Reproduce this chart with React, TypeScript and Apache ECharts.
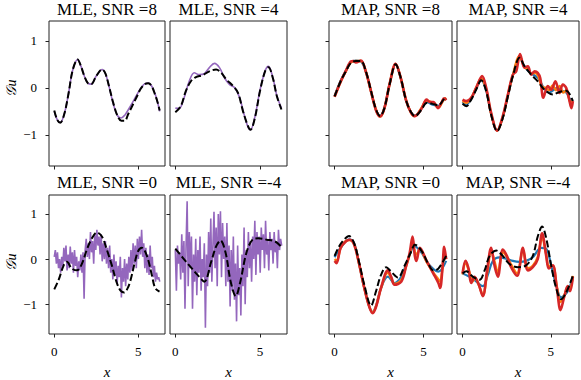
import React, { useEffect, useRef } from "react";
import * as echarts from "echarts";

type P = [number, number];

const titles = [
  "MLE, SNR =8", "MLE, SNR =4", "MAP, SNR =8", "MAP, SNR =4",
  "MLE, SNR =0", "MLE, SNR =-4", "MAP, SNR =0", "MAP, SNR =-4",
];
const xTicks = [0, 5];
const yTicks = [-1, 0, 1];
const xLabel = "x";
const yLabel = "𝒢u";

// ---- MLE, SNR = 8
const truthA: P[] = [[0,-0.48],[0.18,-0.68],[0.36,-0.74],[0.6,-0.55],[0.85,-0.12],[1.1,0.38],[1.39,0.6],[1.6,0.45],[1.8,0.24],[2.0,0.1],[2.2,0.08],[2.5,0.25],[2.85,0.39],[3.05,0.3],[3.25,0.05],[3.5,-0.3],[3.75,-0.58],[4.0,-0.7],[4.2,-0.7],[4.4,-0.56],[4.65,-0.38],[4.9,-0.2],[5.15,-0.02],[5.4,0.08],[5.6,0.1],[5.8,0.04],[6.0,-0.14],[6.15,-0.3],[6.28,-0.48]];
const mleA: P[] = [[0,-0.5],[0.18,-0.68],[0.36,-0.73],[0.6,-0.55],[0.85,-0.12],[1.1,0.38],[1.39,0.6],[1.6,0.45],[1.8,0.24],[2.0,0.1],[2.2,0.08],[2.5,0.25],[2.85,0.39],[3.05,0.3],[3.25,0.05],[3.5,-0.32],[3.75,-0.58],[3.98,-0.64],[4.2,-0.58],[4.4,-0.47],[4.65,-0.32],[4.9,-0.16],[5.15,-0.01],[5.4,0.09],[5.6,0.1],[5.8,0.04],[6.0,-0.12],[6.15,-0.3],[6.28,-0.5]];

// ---- MLE, SNR = 4
const truthB: P[] = [[0,-0.52],[0.32,-0.39],[0.62,-0.07],[0.92,0.14],[1.22,0.23],[1.61,0.27],[2.01,0.35],[2.41,0.39],[2.71,0.32],[3.01,0.18],[3.41,0.04],[3.71,-0.11],[4.0,-0.5],[4.3,-0.82],[4.44,-0.89],[4.7,-0.64],[5.0,-0.07],[5.3,0.35],[5.5,0.44],[5.76,0.21],[6.0,-0.18],[6.27,-0.46]];
const mleB: P[] = [[0,-0.43],[0.22,-0.44],[0.52,-0.21],[0.82,0.14],[1.12,0.32],[1.41,0.28],[1.71,0.3],[2.01,0.43],[2.31,0.52],[2.61,0.43],[2.91,0.21],[3.21,0.07],[3.51,0.0],[3.8,-0.21],[4.05,-0.55],[4.3,-0.84],[4.44,-0.89],[4.7,-0.62],[5.0,-0.05],[5.3,0.36],[5.5,0.46],[5.76,0.22],[6.0,-0.17],[6.27,-0.43]];

// ---- MAP, SNR = 8
const truthC: P[] = [[0,-0.18],[0.34,0.14],[0.63,0.35],[0.91,0.53],[1.19,0.57],[1.48,0.57],[1.76,0.35],[2.05,-0.07],[2.33,-0.46],[2.56,-0.6],[2.8,-0.43],[3.09,0.07],[3.43,0.5],[3.69,0.25],[4.03,-0.28],[4.3,-0.52],[4.51,-0.6],[4.89,-0.46],[5.17,-0.32],[5.51,-0.34],[5.83,-0.37],[6.12,-0.25],[6.28,-0.2]];
const blueC: P[] = [[0,-0.17],[0.34,0.15],[0.63,0.36],[0.91,0.54],[1.19,0.58],[1.48,0.56],[1.76,0.34],[2.05,-0.08],[2.33,-0.47],[2.56,-0.59],[2.8,-0.42],[3.09,0.08],[3.43,0.5],[3.69,0.24],[4.03,-0.29],[4.3,-0.52],[4.51,-0.59],[4.89,-0.44],[5.17,-0.3],[5.51,-0.36],[5.83,-0.38],[6.12,-0.26],[6.28,-0.22]];
const orangeC: P[] = [[0,-0.19],[0.34,0.13],[0.63,0.35],[0.91,0.54],[1.19,0.57],[1.48,0.57],[1.76,0.34],[2.05,-0.08],[2.33,-0.47],[2.56,-0.61],[2.8,-0.43],[3.09,0.08],[3.43,0.51],[3.69,0.25],[4.03,-0.28],[4.3,-0.53],[4.51,-0.6],[4.89,-0.42],[5.17,-0.27],[5.4,-0.3],[5.6,-0.33],[5.83,-0.42],[6.12,-0.26],[6.28,-0.22]];
const redC: P[] = [[0,-0.19],[0.34,0.13],[0.63,0.36],[0.91,0.56],[1.05,0.57],[1.2,0.54],[1.48,0.58],[1.76,0.34],[2.05,-0.08],[2.33,-0.48],[2.56,-0.61],[2.8,-0.43],[3.09,0.08],[3.43,0.51],[3.69,0.25],[4.03,-0.28],[4.3,-0.53],[4.51,-0.6],[4.89,-0.44],[5.17,-0.25],[5.35,-0.3],[5.55,-0.3],[5.8,-0.43],[6.0,-0.32],[6.15,-0.22],[6.28,-0.26]];

// ---- MAP, SNR = 4
const truthD: P[] = [[0,-0.34],[0.21,-0.39],[0.49,-0.25],[0.77,-0.04],[1.06,0.16],[1.34,-0.07],[1.62,-0.57],[1.96,-0.92],[2.28,-0.64],[2.57,-0.18],[2.85,0.25],[3.23,0.64],[3.51,0.46],[3.89,0.28],[4.26,0.14],[4.64,-0.04],[5.11,-0.14],[5.49,-0.09],[5.87,-0.06],[6.25,-0.28]];
const blueD: P[] = [[0,-0.3],[0.21,-0.36],[0.49,-0.23],[0.77,-0.02],[1.06,0.17],[1.34,-0.06],[1.62,-0.56],[1.96,-0.91],[2.28,-0.63],[2.57,-0.17],[2.85,0.26],[3.23,0.66],[3.51,0.45],[3.89,0.3],[4.1,0.26],[4.3,0.2],[4.6,0.0],[4.9,-0.1],[5.11,-0.06],[5.35,0.0],[5.6,-0.06],[5.87,-0.1],[6.1,-0.25],[6.25,-0.3]];
const orangeD: P[] = [[0,-0.28],[0.21,-0.32],[0.49,-0.22],[0.77,0.0],[1.06,0.2],[1.34,-0.03],[1.62,-0.55],[1.96,-0.91],[2.28,-0.62],[2.57,-0.15],[2.85,0.27],[3.23,0.68],[3.51,0.43],[3.7,0.4],[3.89,0.3],[4.1,0.32],[4.3,0.24],[4.5,0.02],[4.7,0.0],[4.9,-0.05],[5.1,0.05],[5.3,-0.05],[5.5,0.04],[5.7,-0.1],[5.9,-0.05],[6.1,-0.3],[6.25,-0.28]];
const redD: P[] = [[0,-0.25],[0.21,-0.28],[0.49,-0.21],[0.77,0.0],[1.11,0.25],[1.34,0.0],[1.62,-0.53],[1.96,-0.91],[2.28,-0.6],[2.57,-0.14],[2.85,0.28],[3.04,0.35],[3.26,0.72],[3.51,0.43],[3.7,0.46],[3.89,0.28],[4.08,0.35],[4.26,0.32],[4.4,0.21],[4.58,-0.21],[4.83,0.04],[5.02,-0.04],[5.26,0.14],[5.49,-0.11],[5.68,0.07],[5.87,0.0],[6.02,-0.21],[6.17,-0.43],[6.25,-0.28]];

// ---- MLE, SNR = 0
const truthE: P[] = [[0,-0.67],[0.26,-0.46],[0.56,-0.14],[0.75,-0.06],[1.05,-0.21],[1.35,-0.25],[1.65,-0.1],[1.94,0.21],[2.24,0.46],[2.54,0.59],[2.84,0.5],[3.13,0.21],[3.43,-0.14],[3.73,-0.53],[3.95,-0.7],[4.17,-0.74],[4.35,-0.66],[4.52,-0.5],[4.82,-0.04],[5.0,0.18],[5.22,0.25],[5.52,0.07],[5.81,-0.35],[6.01,-0.64],[6.27,-0.72]];
const mleE: number[] = [0.05,0.2,-0.1,0.15,-0.2,0.0,-0.3,0.05,-0.15,0.25,-0.05,0.3,-0.25,0.1,-0.2,0.28,-0.1,0.15,-0.3,0.2,-0.15,0.05,-0.4,-0.05,-0.25,0.1,-0.3,0.15,-0.88,0.2,0.45,0.05,0.35,0.0,0.6,0.15,0.4,-0.1,0.55,0.2,0.65,0.3,0.5,0.1,0.55,-0.05,0.35,0.0,0.4,-0.1,0.25,-0.2,0.3,-0.3,0.0,-0.45,0.1,-0.35,-0.05,-0.55,-0.15,-0.4,0.05,-0.85,-0.2,-0.5,0.0,-0.6,-0.1,-0.45,0.05,-0.3,0.2,-0.25,0.35,-0.1,0.3,-0.2,0.45,0.0,0.5,0.1,0.65,0.05,0.35,-0.2,0.25,-0.3,0.1,-0.35,0.3,-0.2,0.05,-0.4,-0.15,-0.5,-0.3,-0.45,-0.4,-0.5];

// ---- MLE, SNR = -4
const truthF: P[] = [[0,0.23],[0.42,0.04],[0.82,-0.14],[1.31,-0.35],[1.71,-0.5],[2.11,-0.07],[2.41,0.28],[2.67,0.41],[2.97,0.14],[3.27,-0.5],[3.57,-0.82],[3.84,-0.5],[4.2,0.14],[4.56,0.43],[4.9,0.46],[5.4,0.43],[5.9,0.39],[6.27,0.27]];
const mleF: number[] = [0.2,-0.7,0.3,-0.1,0.15,-0.45,0.55,-0.3,0.4,-1.1,0.3,1.28,-0.6,0.6,-0.2,0.5,-1.1,0.1,-0.5,0.45,-0.8,0.2,-0.3,0.5,-0.7,0.0,-0.4,0.35,-1.52,0.1,-0.6,0.6,-0.3,0.9,-0.5,0.3,1.05,-0.2,0.7,-0.6,1.0,0.1,1.06,-0.4,0.8,0.0,0.5,-0.6,0.8,-0.5,0.3,-1.05,0.2,-0.7,0.5,-0.9,-0.1,-1.38,0.3,-0.8,-0.2,-1.25,0.1,-0.6,0.7,-1.0,0.2,-0.4,0.6,-0.2,0.4,-0.5,0.5,0.0,0.85,-0.35,0.6,0.1,0.5,-0.3,0.7,0.2,0.55,-0.2,0.85,0.1,0.4,-0.25,0.6,0.2,0.45,-0.1,0.6,0.15,0.4,-0.2,0.65,0.2,0.45,0.3];

// ---- MAP, SNR = 0
const truthG: P[] = [[0,0.07],[0.25,0.28],[0.53,0.43],[0.81,0.51],[1.1,0.35],[1.38,-0.07],[1.67,-0.57],[2.05,-1.03],[2.33,-0.71],[2.61,-0.35],[2.9,-0.18],[3.18,-0.28],[3.56,-0.41],[3.94,-0.14],[4.32,0.18],[4.51,0.32],[4.89,0.18],[5.27,-0.11],[5.55,-0.25],[5.83,-0.21],[6.27,0.07]];
const blueG: P[] = [[0,0.04],[0.34,0.25],[0.81,0.44],[1.1,0.35],[1.38,-0.11],[1.67,-0.64],[2.14,-1.17],[2.33,-1.03],[2.61,-0.64],[2.99,-0.39],[3.37,-0.53],[3.75,-0.39],[4.03,-0.11],[4.51,0.28],[4.89,0.14],[5.27,-0.11],[5.83,-0.28],[6.27,-0.04]];
const orangeG: P[] = [[0,0.0],[0.12,-0.04],[0.34,0.25],[0.63,0.4],[0.85,0.42],[1.1,0.33],[1.38,-0.11],[1.67,-0.64],[1.95,-1.05],[2.14,-1.18],[2.33,-1.04],[2.61,-0.64],[2.99,-0.3],[3.18,-0.42],[3.37,-0.55],[3.75,-0.46],[4.03,-0.14],[4.22,0.1],[4.38,0.35],[4.51,0.15],[4.6,0.1],[4.79,0.22],[5.17,-0.06],[5.55,-0.3],[5.83,-0.45],[5.93,-0.5],[6.06,-0.2],[6.16,0.12],[6.27,0.0]];
const redG: P[] = [[0,-0.04],[0.11,-0.09],[0.34,0.25],[0.63,0.39],[0.85,0.43],[1.1,0.32],[1.38,-0.11],[1.67,-0.64],[1.95,-1.06],[2.14,-1.2],[2.33,-1.06],[2.61,-0.64],[2.99,-0.25],[3.18,-0.39],[3.37,-0.57],[3.75,-0.5],[4.03,-0.14],[4.22,0.14],[4.38,0.5],[4.51,0.07],[4.6,-0.04],[4.79,0.25],[5.17,-0.04],[5.55,-0.32],[5.83,-0.53],[5.93,-0.64],[6.06,-0.21],[6.16,0.27],[6.27,0.0]];

// ---- MAP, SNR = -4
const truthH: P[] = [[0,-0.32],[0.21,-0.27],[0.58,-0.39],[0.96,-0.46],[1.25,-0.25],[1.53,0.07],[1.91,0.19],[2.28,0.07],[2.66,-0.11],[3.13,-0.18],[3.6,-0.14],[3.98,0.07],[4.26,0.5],[4.51,0.72],[4.74,0.46],[5.02,-0.14],[5.3,-0.64],[5.58,-0.89],[5.87,-0.74],[6.25,-0.37]];
const blueH: P[] = [[0,-0.32],[0.58,-0.43],[1.15,-0.6],[1.43,-0.35],[1.72,-0.04],[2.09,0.04],[2.47,0.01],[2.85,-0.04],[3.23,-0.06],[3.6,-0.04],[3.98,0.04],[4.45,0.25],[4.74,0.23],[5.02,-0.14],[5.3,-0.57],[5.58,-0.85],[5.96,-0.71],[6.25,-0.39]];
const orangeH: P[] = [[0,-0.34],[0.17,-0.1],[0.4,-0.3],[0.55,-0.5],[0.7,-0.42],[0.9,-0.55],[1.15,-0.8],[1.4,-0.3],[1.62,0.18],[1.81,-0.05],[2.0,-0.3],[2.28,0.15],[2.51,0.05],[2.75,-0.12],[3.09,-0.32],[3.42,0.2],[3.7,-0.2],[3.98,-0.15],[4.26,0.05],[4.51,0.48],[4.74,0.1],[4.89,-0.15],[5.11,-0.15],[5.34,-0.6],[5.55,-0.95],[5.77,-0.8],[5.96,-0.62],[6.09,-0.62],[6.25,-0.37]];
const redH: P[] = [[0,-0.32],[0.17,-0.04],[0.34,-0.21],[0.49,-0.53],[0.68,-0.39],[0.92,-0.57],[1.15,-0.82],[1.38,-0.28],[1.62,0.25],[1.81,-0.14],[2.0,-0.39],[2.28,0.21],[2.51,0.07],[2.75,-0.18],[3.09,-0.37],[3.42,0.25],[3.7,-0.25],[3.98,-0.18],[4.26,0.0],[4.51,0.57],[4.74,0.07],[4.89,-0.21],[5.11,-0.14],[5.34,-0.64],[5.55,-1.13],[5.77,-0.82],[5.96,-0.6],[6.09,-0.71],[6.25,-0.39]];

const PURPLE = "#9467bd";
const BLUE = "#1f77b4";
const ORANGE = "#ff7f0e";
const RED = "#d62728";
const FONT = "'Liberation Serif', 'DejaVu Serif', serif";

const X_MIN = -0.314;
const X_MAX = 6.597;
const Y_MIN = -1.66;
const Y_MAX = 1.42;

const cols = [
  { left: 49, width: 116 },
  { left: 170, width: 117 },
  { left: 329, width: 123 },
  { left: 457, width: 122 },
];
const rows = [{ top: 21, height: 145 }, { top: 195, height: 145 }];

function noisyPairs(vals: number[]): P[] {
  const n = vals.length;
  return vals.map((v, i) => [(i * 2 * Math.PI) / (n - 1), v]);
}

export default function App() {
  const ref = useRef<HTMLDivElement>(null);
  useEffect(() => {
    if (!ref.current) return;
    const chart = echarts.init(ref.current, undefined, { renderer: "svg" });

    const grids: any[] = [];
    const xAxes: any[] = [];
    const yAxes: any[] = [];
    const graphics: any[] = [];
    for (let r = 0; r < 2; r++) {
      for (let c = 0; c < 4; c++) {
        const i = r * 4 + c;
        grids.push({
          left: cols[c].left, width: cols[c].width,
          top: rows[r].top, height: rows[r].height,
          show: true, borderColor: "#222", borderWidth: 1,
          backgroundColor: "transparent",
        });
        xAxes.push({
          gridIndex: i, type: "value", min: X_MIN, max: X_MAX, position: "bottom",
          axisLine: { show: false, onZero: false },
          splitLine: { show: false },
          axisTick: { show: true, inside: false, length: 3.5, customValues: xTicks, lineStyle: { color: "#222", width: 1 } },
          axisLabel: { show: r === 1, customValues: xTicks, fontFamily: FONT, fontSize: 13, color: "#000000", margin: 11 },
          name: r === 1 ? xLabel : "",
          nameLocation: "middle", nameGap: 30,
          nameTextStyle: { fontFamily: FONT, fontSize: 15, fontStyle: "italic", color: "#000000" },
        });
        yAxes.push({
          gridIndex: i, type: "value", min: Y_MIN, max: Y_MAX, position: "left",
          axisLine: { show: false, onZero: false },
          splitLine: { show: false },
          axisTick: { show: true, inside: false, length: 3.5, customValues: yTicks, lineStyle: { color: "#222", width: 1 } },
          axisLabel: {
            show: c === 0, customValues: yTicks, fontFamily: FONT, fontSize: 13, color: "#000000", margin: 12,
            formatter: (v: number) => (v < 0 ? "\u2212" + Math.abs(v) : String(v)),
          },
        });
        graphics.push({
          type: "text",
          x: cols[c].left + cols[c].width / 2,
          y: r === 0 ? 9 : 182,
          style: { text: titles[i], fontFamily: FONT, fontSize: 17, fill: "#000", textAlign: "center", textVerticalAlign: "middle" },
        });
      }
      graphics.push({
        type: "text", x: 11, y: rows[r].top + 67, rotation: Math.PI / 2,
        style: { text: yLabel, fontFamily: FONT, fontSize: 14, fontStyle: "italic", fill: "#000", textAlign: "center", textVerticalAlign: "middle" },
      });
    }

    const line = (idx: number, data: P[], color: string, width: number, smooth: boolean, dashed = false) => ({
      type: "line", xAxisIndex: idx, yAxisIndex: idx, data, showSymbol: false, symbol: "none",
      smooth: smooth ? 0.35 : false, silent: true,
      lineStyle: { color, width, type: dashed ? [7, 3] : "solid", cap: "butt" },
    });

    const series: any[] = [
      line(0, mleA, PURPLE, 1.6, true), line(0, truthA, "#000", 2, true, true),
      line(1, mleB, PURPLE, 1.6, true), line(1, truthB, "#000", 2, true, true),
      line(2, blueC, BLUE, 2.2, true), line(2, orangeC, ORANGE, 2.4, true), line(2, redC, RED, 2.6, true), line(2, truthC, "#000", 2, true, true),
      line(3, blueD, BLUE, 2.2, true), line(3, orangeD, ORANGE, 2.4, true), line(3, redD, RED, 2.6, true), line(3, truthD, "#000", 2, true, true),
      line(4, noisyPairs(mleE), PURPLE, 1.6, false), line(4, truthE, "#000", 2, true, true),
      line(5, noisyPairs(mleF), PURPLE, 1.6, false), line(5, truthF, "#000", 2, true, true),
      line(6, blueG, BLUE, 2.2, true), line(6, orangeG, ORANGE, 2.4, true), line(6, redG, RED, 2.6, true), line(6, truthG, "#000", 2, true, true),
      line(7, blueH, BLUE, 2.2, true), line(7, orangeH, ORANGE, 2.4, true), line(7, redH, RED, 2.6, true), line(7, truthH, "#000", 2, true, true),
    ];

    chart.setOption({
      animation: false,
      backgroundColor: "#fff",
      grid: grids,
      xAxis: xAxes,
      yAxis: yAxes,
      series,
      graphic: graphics,
    });
    return () => chart.dispose();
  }, []);
  return <div ref={ref} style={{ position: "fixed", left: 0, top: 0, width: 581, height: 380 }} />;
}
